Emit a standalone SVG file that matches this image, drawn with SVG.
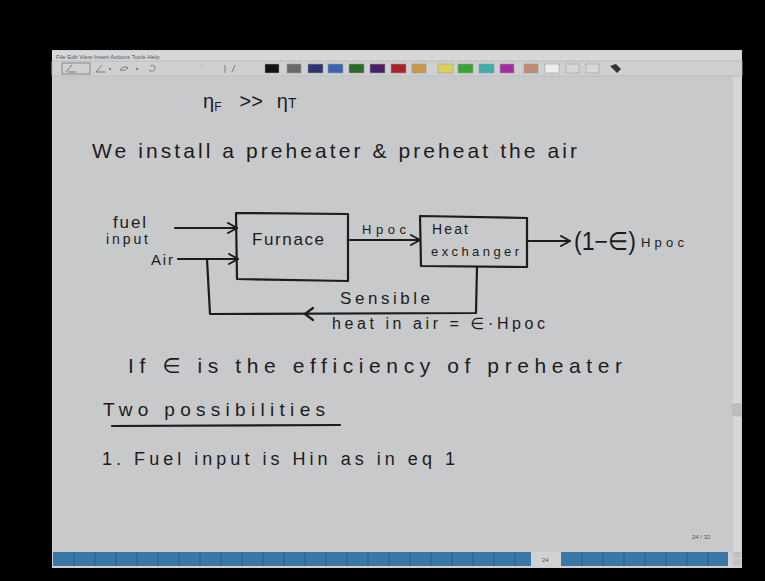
<svg xmlns="http://www.w3.org/2000/svg" width="765" height="581" viewBox="0 0 765 581">
<defs>
<style>
.hw{font-family:"Liberation Sans","DejaVu Sans",sans-serif;fill:#1c1c1c;}
.ln{fill:none;stroke:#1c1c1c;stroke-width:2.2;stroke-linecap:round;stroke-linejoin:round;}
.sw{stroke:#9a9a9a;stroke-width:0.6;}
.menu{font-family:"Liberation Sans",sans-serif;font-size:6px;fill:#555;}
</style>
<marker id="ah" viewBox="0 0 12 12" refX="11" refY="6" markerWidth="12" markerHeight="12" markerUnits="userSpaceOnUse" orient="auto">
<path d="M2,1 L11,6 L2,11" fill="none" stroke="#1c1c1c" stroke-width="2" stroke-linecap="round"/>
</marker>
</defs>
<rect x="0" y="0" width="765" height="581" fill="#000"/>
<g id="window">
<rect x="52" y="50" width="690" height="518" fill="#d0d1d2"/>
<rect x="52" y="51" width="690" height="10" fill="#d6d7d8"/>
<text class="menu" x="56" y="59">File  Edit  View  Insert  Actions  Tools  Help</text>
<rect x="52" y="61" width="690" height="15" fill="#cfd0d1" stroke="#b5b6b7" stroke-width="0.8"/>
<g id="tools" fill="none" stroke="#7d7d7d" stroke-width="1">
<rect x="62" y="63" width="28" height="11" stroke="#8a8a8a"/>
<path d="M66,72 L72,65 M68,72 L76,72 M96,72 L102,65 M96,72 L106,72 M120,70 q4,-5 8,-2 q-3,4 -8,2 M150,66 q6,-2 5,3 q-2,4 -6,1 M225,65 l0,8 M232,72 l3,-7"/>
<circle cx="110" cy="69" r="0.8" fill="#7d7d7d"/>
<circle cx="137" cy="69" r="0.8" fill="#7d7d7d"/>
<circle cx="202" cy="65" r="0.8" fill="#aaa" stroke="none"/>
</g>
<g id="palette">
<rect class="sw" x="265" y="64" width="14" height="9" fill="#111"/>
<rect class="sw" x="287" y="64" width="14" height="9" fill="#6a6a6a"/>
<rect class="sw" x="308" y="64" width="15" height="9" fill="#2e3470"/>
<rect class="sw" x="328" y="64" width="15" height="9" fill="#3a64b0"/>
<rect class="sw" x="349" y="64" width="15" height="9" fill="#2a6a2a"/>
<rect class="sw" x="370" y="64" width="15" height="9" fill="#4a1f66"/>
<rect class="sw" x="391" y="64" width="15" height="9" fill="#a82228"/>
<rect class="sw" x="412" y="64" width="14" height="9" fill="#c89a48"/>
<rect class="sw" x="438" y="64" width="15" height="9" fill="#d8d25a"/>
<rect class="sw" x="458" y="64" width="15" height="9" fill="#3aa43a"/>
<rect class="sw" x="479" y="64" width="15" height="9" fill="#3ab0a8"/>
<rect class="sw" x="500" y="64" width="14" height="9" fill="#a62aa0"/>
<rect class="sw" x="524" y="64" width="14" height="9" fill="#c08a70"/>
<rect class="sw" x="545" y="64" width="14" height="9" fill="#eeeeee"/>
<rect class="sw" x="566" y="64" width="13" height="9" fill="#d6d7d9"/>
<rect class="sw" x="586" y="64" width="13" height="9" fill="#d6d7d9"/>
<path d="M610,66 l6,-2 l5,5 l-4,4 z" fill="#333"/>
</g>
<rect x="53" y="77" width="680" height="475" fill="#c8c9cb"/>
<rect x="733" y="77" width="8" height="490" fill="#d6d7d8"/>
<rect x="733" y="404" width="8" height="12" fill="#bdbebf" stroke="#a5a5a5" stroke-width="0.5"/>
<text class="menu" x="692" y="539" font-size="5">24 / 32</text>
<g id="tabs">
<rect x="53" y="552" width="478" height="14" fill="#3a78a8"/>
<rect x="561" y="552" width="167" height="14" fill="#3a78a8"/>
<path d="M74,552v14M95,552v14M116,552v14M137,552v14M158,552v14M179,552v14M200,552v14M221,552v14M242,552v14M263,552v14M284,552v14M305,552v14M326,552v14M347,552v14M368,552v14M389,552v14M410,552v14M431,552v14M452,552v14M473,552v14M494,552v14M515,552v14M582,552v14M603,552v14M624,552v14M645,552v14M666,552v14M687,552v14M708,552v14" stroke="#2b5f88" stroke-width="1"/>
<text class="menu" x="542" y="562" font-size="6">24</text>
<rect x="733" y="552" width="8" height="6" fill="#c0c1c2"/>
<rect x="733" y="559" width="8" height="7" fill="#c0c1c2"/>
</g>
</g>
<g id="eta">
<text class="hw" x="203" y="108" font-size="20">η<tspan font-size="12" dy="3">F</tspan><tspan dy="-3" dx="18">&gt;&gt;</tspan><tspan dx="14">η</tspan><tspan font-size="14">T</tspan></text>
</g>
<g id="line1">
<text class="hw" x="92" y="158" font-size="21" textLength="485" lengthAdjust="spacing">We install a preheater &amp; preheat the air</text>
</g>
<g id="fuel">
<text class="hw" x="113" y="228" font-size="17" textLength="33">fuel</text>
<text class="hw" x="106" y="244" font-size="14" textLength="42">input</text>
</g>
<g id="air">
<text class="hw" x="151" y="265" font-size="15" textLength="22">Air</text>
</g>
<g id="furnace">
<path class="ln" d="M236,213 L348,214 L348,281 L237,279 Z"/>
<text class="hw" x="252" y="245" font-size="17" textLength="72">Furnace</text>
</g>
<g id="hx">
<path class="ln" d="M420,216 L527,218 L527,267 L421,266 Z"/>
<text class="hw" x="432" y="234" font-size="14" textLength="36">Heat</text>
<text class="hw" x="431" y="256" font-size="13" textLength="88">exchanger</text>
</g>
<g id="output">
<text class="hw" x="574" y="250" font-size="25" textLength="62" lengthAdjust="spacingAndGlyphs">(1−∈)</text>
<text class="hw" x="641" y="247" font-size="13" textLength="43">Hpoc</text>
</g>
<g id="connectors">
<path class="ln" d="M175,228 L237,228" marker-end="url(#ah)"/>
<path class="ln" d="M178,259 L238,259" marker-end="url(#ah)"/>
<path class="ln" d="M348,240 L420,240" marker-end="url(#ah)"/>
<path class="ln" d="M527,241 L570,241" marker-end="url(#ah)"/>
<path class="ln" d="M477,267 L476,313 L210,314 L207,259"/>
<path class="ln" d="M313,308 L305,314 L313,320"/>
<text class="hw" x="362" y="234" font-size="13" textLength="44">Hpoc</text>
<text class="hw" x="340" y="304" font-size="17" textLength="90">Sensible</text>
<text class="hw" x="332" y="329" font-size="16" textLength="213">heat in air = ∈·Hpoc</text>
</g>
<g id="line2">
<text class="hw" x="128" y="373" font-size="21" textLength="494" lengthAdjust="spacing">If ∈ is the efficiency of preheater</text>
</g>
<g id="line3">
<text class="hw" x="103" y="416" font-size="19" textLength="222" lengthAdjust="spacing">Two possibilities</text>
<path class="ln" d="M112,426 L340,425"/>
</g>
<g id="line4">
<text class="hw" x="102" y="465" font-size="18" textLength="353" lengthAdjust="spacing">1.  Fuel input is Hin as in eq 1</text>
</g>
</svg>
